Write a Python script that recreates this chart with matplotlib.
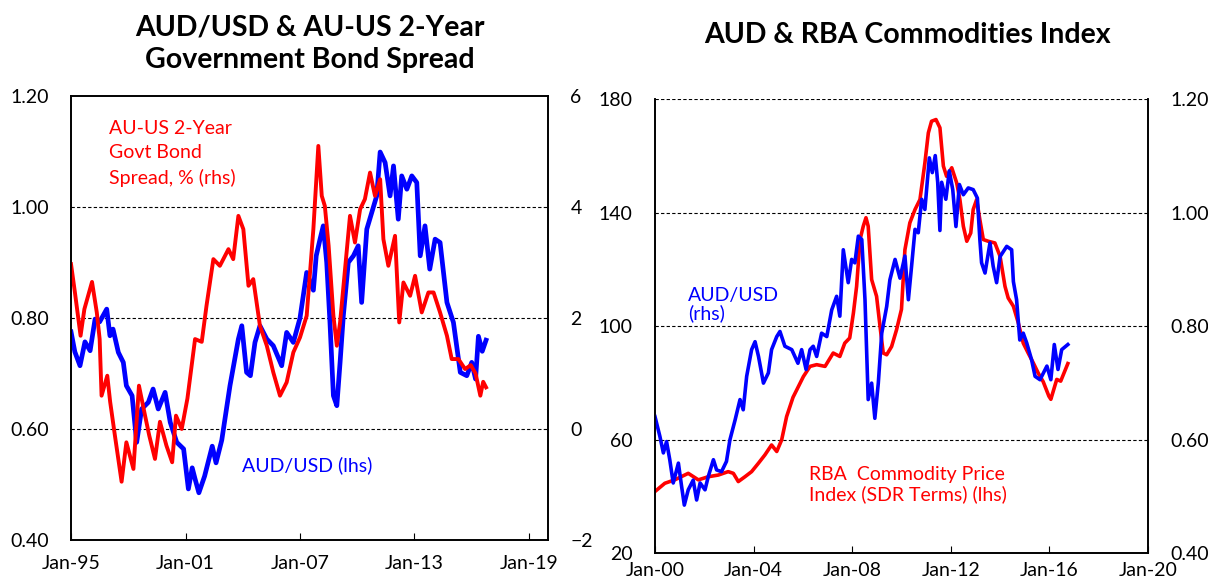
import matplotlib.pyplot as plt

plt.rcParams['font.family'] = ['Lato', 'DejaVu Sans']

# ---- left chart: AUD/USD vs AU-US 2y spread (decimal years) ----
aud_l_t = [1995.0, 1995.2, 1995.47, 1995.73, 1996.0, 1996.26, 1996.5, 1996.87, 1997.04, 1997.2,
           1997.48, 1997.74, 1997.9, 1998.2, 1998.44, 1998.7, 1999.05, 1999.3, 1999.57, 1999.93,
           2000.2, 2000.54, 2000.9, 2001.15, 2001.35, 2001.5, 2001.7, 2002.0, 2002.4, 2002.6,
           2002.9, 2003.33, 2003.77, 2003.95, 2004.2, 2004.4, 2004.64, 2004.9, 2005.26, 2005.6,
           2006.04, 2006.3, 2006.65, 2007.0, 2007.35, 2007.7, 2007.85, 2008.05, 2008.22, 2008.4,
           2008.57, 2008.75, 2008.93, 2009.1, 2009.27, 2009.53, 2009.8, 2010.05, 2010.23, 2010.5,
           2010.76, 2011.02, 2011.2, 2011.46, 2011.72, 2011.9, 2012.15, 2012.33, 2012.6, 2012.86,
           2013.12, 2013.3, 2013.55, 2013.8, 2014.08, 2014.34, 2014.7, 2015.04, 2015.4, 2015.74,
           2016.0, 2016.2, 2016.35, 2016.55, 2016.75]
aud_l = [0.775, 0.739, 0.714, 0.757, 0.741, 0.798, 0.793, 0.816, 0.768, 0.78,
         0.738, 0.72, 0.678, 0.66, 0.576, 0.636, 0.648, 0.672, 0.636, 0.666,
         0.612, 0.576, 0.564, 0.492, 0.53, 0.51, 0.485, 0.515, 0.569, 0.539,
         0.58, 0.678, 0.762, 0.786, 0.702, 0.696, 0.756, 0.786, 0.762, 0.75,
         0.714, 0.774, 0.756, 0.80, 0.882, 0.85, 0.912, 0.942, 0.966, 0.90,
         0.792, 0.66, 0.642, 0.72, 0.804, 0.90, 0.912, 0.93, 0.828, 0.96,
         0.99, 1.02, 1.099, 1.08, 1.02, 1.074, 0.978, 1.056, 1.032, 1.056,
         1.044, 0.912, 0.966, 0.888, 0.942, 0.936, 0.828, 0.792, 0.702, 0.696,
         0.72, 0.69, 0.767, 0.74, 0.76]

spr_t = [1995.0, 1995.2, 1995.5, 1995.7, 1996.1, 1996.35, 1996.5, 1996.6, 1996.9, 1997.05,
         1997.3, 1997.65, 1997.9, 1998.27, 1998.56, 1998.88, 1999.1, 1999.4, 1999.66, 2000.0,
         2000.3, 2000.5, 2000.8, 2001.1, 2001.5, 2001.85, 2002.1, 2002.46, 2002.8, 2003.25,
         2003.5, 2003.77, 2004.03, 2004.3, 2004.55, 2004.9, 2005.26, 2005.6, 2005.95, 2006.3,
         2006.65, 2007.0, 2007.35, 2007.7, 2007.96, 2008.14, 2008.3, 2008.5, 2008.75, 2008.93,
         2009.1, 2009.36, 2009.62, 2009.88, 2010.15, 2010.4, 2010.67, 2010.93, 2011.2, 2011.37,
         2011.63, 2011.98, 2012.2, 2012.42, 2012.77, 2013.03, 2013.38, 2013.73, 2014.0, 2014.34,
         2014.7, 2014.95, 2015.3, 2015.65, 2015.95, 2016.2, 2016.45, 2016.6, 2016.75]
spread = [2.97, 2.47, 1.68, 2.16, 2.65, 2.1, 1.62, 0.6, 0.96, 0.49,
          -0.12, -0.95, -0.24, -0.72, 0.78, 0.24, -0.12, -0.54, 0.13, -0.3,
          -0.6, 0.24, 0.0, 0.55, 1.62, 1.57, 2.22, 3.06, 2.94, 3.24,
          3.06, 3.84, 3.6, 2.58, 2.7, 1.86, 1.5, 1.02, 0.6, 0.84,
          1.38, 1.65, 2.04, 3.6, 5.1, 4.2, 4.02, 3.3, 2.04, 1.5,
          1.92, 2.88, 3.84, 3.36, 3.96, 4.14, 4.62, 4.2, 4.5, 3.42,
          2.94, 3.48, 1.92, 2.64, 2.4, 2.76, 2.1, 2.46, 2.46, 2.1,
          1.68, 1.26, 1.26, 1.08, 1.15, 1.0, 0.6, 0.85, 0.75]

# ---- right chart: RBA commodity index (SDR) vs AUD/USD ----
cpi_t = [2000.0, 2000.4, 2000.8, 2001.35, 2001.76, 2002.16, 2002.57, 2002.97, 2003.18, 2003.38,
         2003.65, 2003.92, 2004.2, 2004.46, 2004.73, 2004.94, 2005.14, 2005.34, 2005.6, 2005.75,
         2006.02, 2006.29, 2006.56, 2006.9, 2007.23, 2007.5, 2007.7, 2007.9, 2008.05, 2008.18,
         2008.32, 2008.45, 2008.56, 2008.65, 2008.79, 2008.99, 2009.13, 2009.26, 2009.4, 2009.6,
         2009.8, 2010.0, 2010.14, 2010.34, 2010.55, 2010.75, 2010.95, 2011.09, 2011.22, 2011.4,
         2011.56, 2011.7, 2011.83, 2012.04, 2012.24, 2012.37, 2012.51, 2012.65, 2012.81, 2012.91,
         2013.05, 2013.18, 2013.32, 2013.52, 2013.79, 2014.0, 2014.2, 2014.33, 2014.54, 2014.74,
         2014.94, 2015.14, 2015.35, 2015.55, 2015.75, 2015.98, 2016.06, 2016.3, 2016.46, 2016.75]
cpi = [41.8, 44.7, 45.9, 48.2, 45.9, 47.0, 47.6, 48.8, 48.2, 45.3,
       47.0, 48.8, 51.8, 54.7, 58.2, 55.9, 60.0, 68.2, 75.0, 77.6,
       82.3, 85.9, 86.5, 85.9, 90.6, 89.4, 94.1, 95.9, 104.7, 114.1,
       130.6, 135.3, 138.3, 135.3, 116.5, 110.6, 100.0, 90.6, 90.0, 92.9,
       98.8, 106.0, 127.0, 136.5, 141.2, 144.7, 157.6, 168.2, 172.3, 172.9,
       170.0, 156.5, 152.9, 155.9, 150.6, 144.7, 135.3, 130.0, 132.9, 141.2,
       144.7, 137.6, 130.6, 130.0, 129.4, 124.7, 114.1, 110.0, 107.1, 101.2,
       94.1, 90.6, 87.1, 83.5, 80.5, 75.4, 74.3, 81.3, 80.7, 86.9]

aud_r_t = [2000.0, 2000.2, 2000.34, 2000.47, 2000.6, 2000.74, 2000.95, 2001.08, 2001.19, 2001.35,
           2001.55, 2001.69, 2001.83, 2002.03, 2002.16, 2002.37, 2002.5, 2002.7, 2002.9, 2003.04,
           2003.25, 2003.45, 2003.58, 2003.72, 2003.92, 2004.06, 2004.2, 2004.4, 2004.6, 2004.73,
           2004.94, 2005.07, 2005.27, 2005.55, 2005.8, 2005.95, 2006.13, 2006.29, 2006.42, 2006.56,
           2006.76, 2006.97, 2007.17, 2007.37, 2007.5, 2007.64, 2007.84, 2007.98, 2008.11, 2008.25,
           2008.39, 2008.52, 2008.65, 2008.79, 2008.92, 2009.06, 2009.2, 2009.4, 2009.53, 2009.74,
           2009.94, 2010.14, 2010.28, 2010.41, 2010.55, 2010.68, 2010.82, 2010.95, 2011.13, 2011.25,
           2011.37, 2011.47, 2011.56, 2011.63, 2011.8, 2011.94, 2012.08, 2012.21, 2012.35, 2012.51,
           2012.71, 2012.91, 2013.08, 2013.18, 2013.25, 2013.39, 2013.59, 2013.72, 2013.86, 2014.0,
           2014.27, 2014.47, 2014.54, 2014.67, 2014.8, 2014.94, 2015.08, 2015.28, 2015.42, 2015.62,
           2015.9, 2016.06, 2016.2, 2016.35, 2016.5, 2016.75]
aud_r = [0.641, 0.606, 0.577, 0.597, 0.565, 0.524, 0.559, 0.518, 0.485, 0.512,
         0.529, 0.494, 0.524, 0.512, 0.535, 0.565, 0.547, 0.544, 0.562, 0.60,
         0.635, 0.671, 0.653, 0.712, 0.759, 0.773, 0.747, 0.70, 0.718, 0.759,
         0.782, 0.791, 0.765, 0.759, 0.735, 0.759, 0.724, 0.759, 0.765, 0.747,
         0.788, 0.782, 0.829, 0.853, 0.818, 0.935, 0.877, 0.918, 0.912, 0.959,
         0.953, 0.847, 0.671, 0.70, 0.638, 0.70, 0.788, 0.835, 0.882, 0.918,
         0.885, 0.924, 0.847, 0.906, 0.971, 0.965, 1.024, 1.006, 1.097, 1.071,
         1.101, 1.054, 0.969, 1.054, 1.024, 1.074, 1.041, 0.976, 1.05, 1.032,
         1.044, 1.041, 1.026, 0.953, 0.912, 0.894, 0.947, 0.906, 0.877, 0.923,
         0.941, 0.935, 0.879, 0.847, 0.776, 0.788, 0.771, 0.741, 0.712, 0.706,
         0.73, 0.706, 0.768, 0.724, 0.759, 0.768]

left_years = [1995, 2001, 2007, 2013, 2019]
left_labels = ['Jan-95', 'Jan-01', 'Jan-07', 'Jan-13', 'Jan-19']
right_years = [2000, 2004, 2008, 2012, 2016, 2020]
right_labels = ['Jan-00', 'Jan-04', 'Jan-08', 'Jan-12', 'Jan-16', 'Jan-20']

BLUE = '#0000FF'
RED = '#FF0000'
TICK_FS = 14

fig = plt.figure(figsize=(12.08, 5.81), dpi=100)

# ---------- left panel ----------
ax1 = fig.add_axes([0.0588, 0.0706, 0.3949, 0.7642])
ax1.plot(aud_l_t, aud_l, color=BLUE, lw=3.4, solid_joinstyle='round')
ax1.set_xlim(1995, 2020)
ax1.set_ylim(0.4, 1.2)
ax1.set_yticks([0.4, 0.6, 0.8, 1.0, 1.2])
ax1.set_yticklabels(['0.40', '0.60', '0.80', '1.00', '1.20'])
ax1.set_xticks(left_years)
ax1.set_xticklabels(left_labels)
for v in [0.6, 0.8, 1.0]:
    ax1.axhline(v, color='black', lw=0.8, ls=(0, (3, 2)), zorder=0)
ax1.tick_params(axis='y', length=0, pad=16, labelsize=TICK_FS)
ax1.tick_params(axis='x', direction='in', length=5, pad=11, labelsize=TICK_FS)

ax1b = ax1.twinx()
ax1b.plot(spr_t, spread, color=RED, lw=2.8, solid_joinstyle='round')
ax1b.set_ylim(-2, 6)
ax1b.set_yticks([-2, 0, 2, 4, 6])
ax1b.tick_params(axis='y', length=0, pad=16, labelsize=TICK_FS)
for a in (ax1, ax1b):
    for s in a.spines.values():
        s.set_linewidth(1.2)

ax1.set_title('AUD/USD & AU-US 2-Year\nGovernment Bond Spread', fontsize=20.5,
              fontweight='bold', pad=20, linespacing=1.3)
ax1.text(0.0795, 0.945, 'AU-US 2-Year\nGovt Bond\nSpread, % (rhs)', transform=ax1.transAxes,
         color=RED, fontsize=14, va='top', ha='left', linespacing=1.5)
ax1.text(0.358, 0.168, 'AUD/USD (lhs)', transform=ax1.transAxes,
         color=BLUE, fontsize=14, va='center', ha='left')

# ---------- right panel ----------
ax2 = fig.add_axes([0.5422, 0.0476, 0.4081, 0.7813])
ax2.plot(cpi_t, cpi, color=RED, lw=2.6, solid_joinstyle='round')
ax2.set_xlim(2000, 2020)
ax2.set_ylim(20, 180)
ax2.set_yticks([20, 60, 100, 140, 180])
ax2.set_xticks(right_years)
ax2.set_xticklabels(right_labels)
for v in [60, 100, 140, 180]:
    ax2.axhline(v, color='black', lw=0.8, ls=(0, (3, 2)), zorder=0)
ax2.spines['top'].set_visible(False)
ax2.tick_params(axis='y', length=0, pad=16, labelsize=TICK_FS)
ax2.tick_params(axis='x', direction='in', length=5, pad=6, labelsize=TICK_FS)

ax2b = ax2.twinx()
ax2b.plot(aud_r_t, aud_r, color=BLUE, lw=2.6, solid_joinstyle='round')
ax2b.set_ylim(0.4, 1.2)
ax2b.set_yticks([0.4, 0.6, 0.8, 1.0, 1.2])
ax2b.set_yticklabels(['0.40', '0.60', '0.80', '1.00', '1.20'])
ax2b.spines['top'].set_visible(False)
ax2b.tick_params(axis='y', length=0, pad=16, labelsize=TICK_FS)
for a in (ax2, ax2b):
    for s in a.spines.values():
        s.set_linewidth(1.2)

fig.text(0.751, 0.94, 'AUD & RBA Commodities Index', fontsize=20.5, fontweight='bold',
         ha='center', va='center')
ax2.text(0.067, 0.548, 'AUD/USD\n(rhs)', transform=ax2.transAxes, color=BLUE,
         fontsize=14, va='center', ha='left', linespacing=1.05)
ax2.text(0.312, 0.152, 'RBA  Commodity Price\nIndex (SDR Terms) (lhs)', transform=ax2.transAxes,
         color=RED, fontsize=14, va='center', ha='left', linespacing=1.15)

fig.savefig('out.png', dpi=100)
